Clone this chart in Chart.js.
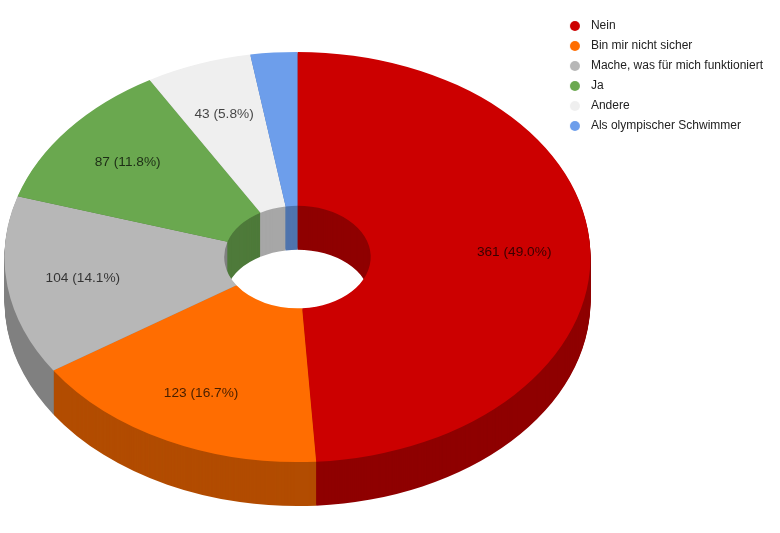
<!DOCTYPE html>
<html lang="de">
<head>
<meta charset="utf-8">
<title>Umfrage</title>
<script src="https://cdn.jsdelivr.net/npm/chart.js@4/dist/chart.umd.min.js"></script>
<style>
    body { margin: 0; background: #fff; }
    canvas { display: block; }
</style>
</head>
<body>
<canvas id="surveyChart" width="780" height="533"></canvas>
<script>
// Daten
const categories = ['Nein', 'Bin mir nicht sicher', 'Mache, was für mich funktioniert', 'Ja', 'Andere', 'Als olympischer Schwimmer'];
const answers = [361, 123, 104, 87, 43, 19];
const topColors = ['#cc0000', '#ff6d01', '#b7b7b7', '#6aa84f', '#efefef', '#6d9eeb'];
const wallColors = ['#8f0000', '#b24c01', '#808080', '#4e7a3a', '#a7a7a7', '#4f74ad'];

// Ansicht: flache Ellipse plus Seitenwand
const squash = 0.7;
const depth = 44;
const labelRadius = 0.74;

function squashed(ctx, arc) {
    ctx.translate(arc.x, arc.y);
    ctx.scale(1, squash);
    ctx.translate(-arc.x, -arc.y);
}

// Runder Legendenpunkt, unabhaengig von der Boxbreite
function legendDot(color) {
    const dot = document.createElement('canvas');
    dot.width = 12;
    dot.height = 12;
    const ctx = dot.getContext('2d');
    ctx.fillStyle = color;
    ctx.beginPath();
    ctx.arc(6, 6, 5, 0, Math.PI * 2);
    ctx.fill();
    return dot;
}

const pie3d = {
    id: 'pie3d',
    beforeDatasetsDraw(chart) {
        const ctx = chart.ctx;
        const arcs = chart.getDatasetMeta(0).data;
        ctx.save();
        squashed(ctx, arcs[0]);
        // Wand von unten nach oben aufbauen
        for (let d = depth; d > 0; d--) {
            arcs.forEach((arc, i) => {
                const y = arc.y + d / squash;
                ctx.beginPath();
                ctx.arc(arc.x, y, arc.outerRadius, arc.startAngle, arc.endAngle);
                ctx.arc(arc.x, y, arc.innerRadius, arc.endAngle, arc.startAngle, true);
                ctx.closePath();
                ctx.fillStyle = wallColors[i];
                ctx.fill();
            });
        }
    },
    afterDatasetsDraw(chart) {
        const ctx = chart.ctx;
        ctx.restore();

        const total = answers.reduce((acc, v) => acc + v, 0);
        ctx.font = '13.7px "Liberation Sans", Arial, sans-serif';
        ctx.fillStyle = 'rgba(0, 0, 0, 0.72)';
        ctx.textAlign = 'center';
        ctx.textBaseline = 'middle';
        chart.getDatasetMeta(0).data.forEach((arc, i) => {
            const share = answers[i] / total * 100;
            if (share < 5) return;
            const mid = (arc.startAngle + arc.endAngle) / 2;
            const x = arc.x + Math.cos(mid) * arc.outerRadius * labelRadius;
            const y = arc.y + Math.sin(mid) * arc.outerRadius * labelRadius * squash;
            ctx.fillText(`${answers[i]} (${share.toFixed(1)}%)`, x, y);
        });
    }
};

new Chart(document.getElementById('surveyChart'), {
    type: 'doughnut',
    data: {
        labels: categories,
        datasets: [{
            data: answers,
            backgroundColor: topColors,
            borderWidth: 0,
            clip: false
        }]
    },
    options: {
        responsive: false,
        animation: false,
        radius: 293,
        cutout: '25%',
        layout: {
            padding: { left: 38, right: 7, top: 12, bottom: 31 }
        },
        plugins: {
            tooltip: { enabled: false },
            legend: {
                position: 'right',
                align: 'start',
                labels: {
                    usePointStyle: true,
                    pointStyleWidth: 20,
                    boxHeight: 7,
                    padding: 8,
                    color: '#222',
                    font: { family: '"Liberation Sans", Arial, sans-serif', size: 12 },
                    generateLabels(chart) {
                        const items = Chart.overrides.doughnut.plugins.legend.labels.generateLabels(chart);
                        items.forEach(item => { item.pointStyle = legendDot(item.fillStyle); });
                        return items;
                    }
                }
            }
        }
    },
    plugins: [pie3d]
});
</script>
</body>
</html>
